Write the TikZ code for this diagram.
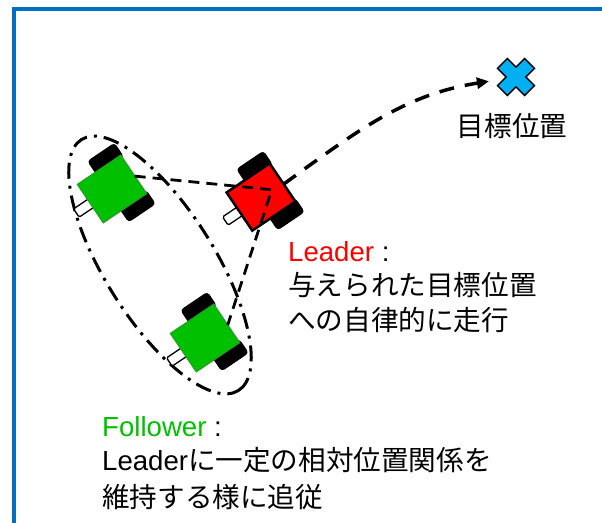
\documentclass[tikz,border=0pt]{standalone}
\usepackage{fontspec}
\setmainfont{Liberation Sans}
\newfontfamily\jp{Noto Sans CJK JP}
\usetikzlibrary{arrows.meta}

\definecolor{frameblue}{RGB}{0,112,192}
\definecolor{goalblue}{RGB}{0,176,240}
\definecolor{robgreen}{RGB}{0,192,0}
\definecolor{robgreenedge}{RGB}{30,165,30}

\tikzset{
  % two-wheeled robot, heading along +x
  pics/robot/.style={code={
    \fill[black, rounded corners=3.5pt] (-5,20) rectangle (28,37);
    \fill[black, rounded corners=3.5pt] (-5,-20) rectangle (28,-37);
    \draw[fill=white, line width=1.3pt, rounded corners=1.5pt] (-43,-5) rectangle (-22,5);
    \draw[#1] (-26,-23) rectangle (26,23);
    \coordinate (-mid) at (13,0);
    \coordinate (-front) at (26,-2);
  }},
  leaderbody/.style={fill=red, draw=black, line width=2.5pt},
  followerbody/.style={fill=robgreen, draw=robgreenedge, line width=1.5pt},
  formation/.style={line width=2.8pt, dash pattern=on 11pt off 7pt},
  groupline/.style={line width=3pt, dash pattern=on 16pt off 7pt on 3pt off 7pt},
  goalpath/.style={line width=3.5pt, dash pattern=on 15pt off 11pt,
    -{Triangle[length=12pt,width=11pt]}, shorten >=8pt},
  labeltext/.style={font=\fontsize{27.6}{33}\selectfont, inner sep=0pt, anchor=base west},
}

\begin{document}
\begin{tikzpicture}[x=1pt, y=1pt]
  \useasboundingbox (0,0) rectangle (602,522);
  \clip (0,0) rectangle (602,522);
  \draw[frameblue, line width=3.7pt] (14,-20) -- (14,513) -- (640,513);

  % group of followers
  \draw[groupline, rotate around={-58:(160,257)}] (160,257) ellipse [x radius=148pt, y radius=55pt];

  \pic[rotate=34] (fol1) at (112,333) {robot=followerbody};
  \pic[rotate=34] (fol2) at (205,184) {robot=followerbody};
  \pic[rotate=34] (lead) at (261,325) {robot=leaderbody};

  \draw[formation] (fol1-front) -- (lead-mid) -- (fol2-front);

  % goal
  \node[minimum size=38pt, inner sep=0pt] (goal) at (516,445) {};
  \filldraw[fill=goalblue, draw=black, line width=1.3pt, shift={(goal.center)}]
    (18.5,8.6) -- (8.6,18.5) -- (0,9.9) -- (-8.6,18.5) -- (-18.5,8.6) -- (-9.9,0)
    -- (-18.5,-8.6) -- (-8.6,-18.5) -- (0,-9.9) -- (8.6,-18.5) -- (18.5,-8.6) -- (9.9,0) -- cycle;
  \node[labeltext, anchor=base] (goallabel) at (512,385) {\jp 目標位置};
  \draw[goalpath] (lead-front) to[out=36, in=189] (goal);

  % labels
  \node[labeltext] (leadhead) at (288,260) {\textcolor{red}{Leader} :};
  \node[labeltext] (leadline1) at (288,226) {\jp 与えられた目標位置};
  \node[labeltext] (leadline2) at (288,191) {\jp への自律的に走行};

  \node[labeltext] (folhead) at (102,85) {\textcolor{robgreen}{Follower} :};
  \node[labeltext] (folline1) at (102,52) {Leader\jp に一定の相対位置関係を};
  \node[labeltext] (folline2) at (102,15) {\jp 維持する様に追従};
\end{tikzpicture}
\end{document}
